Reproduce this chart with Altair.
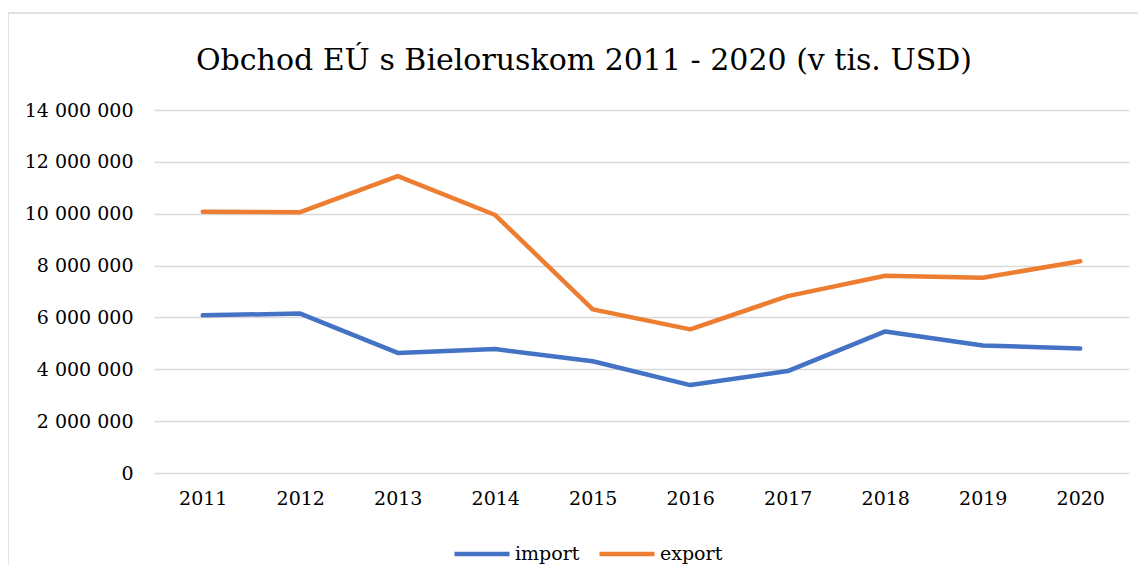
import altair as alt
import pandas as pd

years = ["2011", "2012", "2013", "2014", "2015", "2016", "2017", "2018", "2019", "2020"]
import_vals = [6080000, 6150000, 4630000, 4780000, 4310000, 3390000, 3930000, 5460000, 4920000, 4800000]
export_vals = [10080000, 10060000, 11450000, 9950000, 6310000, 5540000, 6820000, 7610000, 7530000, 8170000]
series_names = ["import", "export"]
series_colors = ["#4472C4", "#ED7D31"]
y_ticks = [0, 2000000, 4000000, 6000000, 8000000, 10000000, 12000000, 14000000]
title_text = "Obchod EÚ s Bieloruskom 2011 - 2020 (v tis. USD)"

rows = []
for i, yr in enumerate(years):
    rows.append({"year": yr, "series": "import", "value": import_vals[i]})
    rows.append({"year": yr, "series": "export", "value": export_vals[i]})
df = pd.DataFrame(rows)

FONT = "DejaVu Serif"
LBL = 19

lines = alt.Chart(df).mark_line(strokeWidth=4.5, strokeCap="round", strokeJoin="round").encode(
    x=alt.X("year:O", scale=alt.Scale(type="point", padding=0.5),
            axis=alt.Axis(title=None, labelAngle=0, ticks=False, domain=False,
                          labelFontSize=LBL, labelFont=FONT, labelColor="#000000",
                          labelPadding=16)),
    y=alt.Y("value:Q", scale=alt.Scale(domain=[0, 14000000], nice=False),
            axis=alt.Axis(title=None, values=y_ticks, ticks=False, domain=False,
                          labelExpr="replace(format(datum.value, ',d'), /,/g, ' ')",
                          labelFontSize=LBL, labelFont=FONT, labelColor="#000000",
                          labelPadding=21, gridColor="#D9D9D9", gridWidth=1.5)),
    color=alt.Color("series:N", scale=alt.Scale(domain=series_names, range=series_colors),
                    sort=series_names,
                    legend=alt.Legend(title=None, orient="none", direction="horizontal",
                                      legendX=298, legendY=414,
                                      symbolType="stroke", symbolSize=3025,
                                      symbolStrokeWidth=4.5, labelFontSize=LBL,
                                      labelFont=FONT, labelColor="#000000",
                                      labelOffset=3, columnPadding=10)),
)

border = alt.Chart(pd.DataFrame({"k": [0]})).mark_rect(
    fill=None, stroke="#D9D9D9", strokeWidth=1.5
).encode(x=alt.value(-146), x2=alt.value(1010), y=alt.value(-97), y2=alt.value(490))

title = alt.Chart(pd.DataFrame({"t": [title_text]})).mark_text(
    font=FONT, fontSize=30, color="#000000", align="center", baseline="alphabetic"
).encode(text="t:N", x=alt.value(430), y=alt.value(-40))

chart = alt.layer(border, lines, title).properties(
    width=975,
    height=363,
    autosize=alt.AutoSizeParams(type="none"),
    padding={"left": 146, "top": 102, "right": 9, "bottom": 92},
).configure_view(stroke=None)

chart.save("out.html", embed_options={"renderer": "svg", "actions": False})
